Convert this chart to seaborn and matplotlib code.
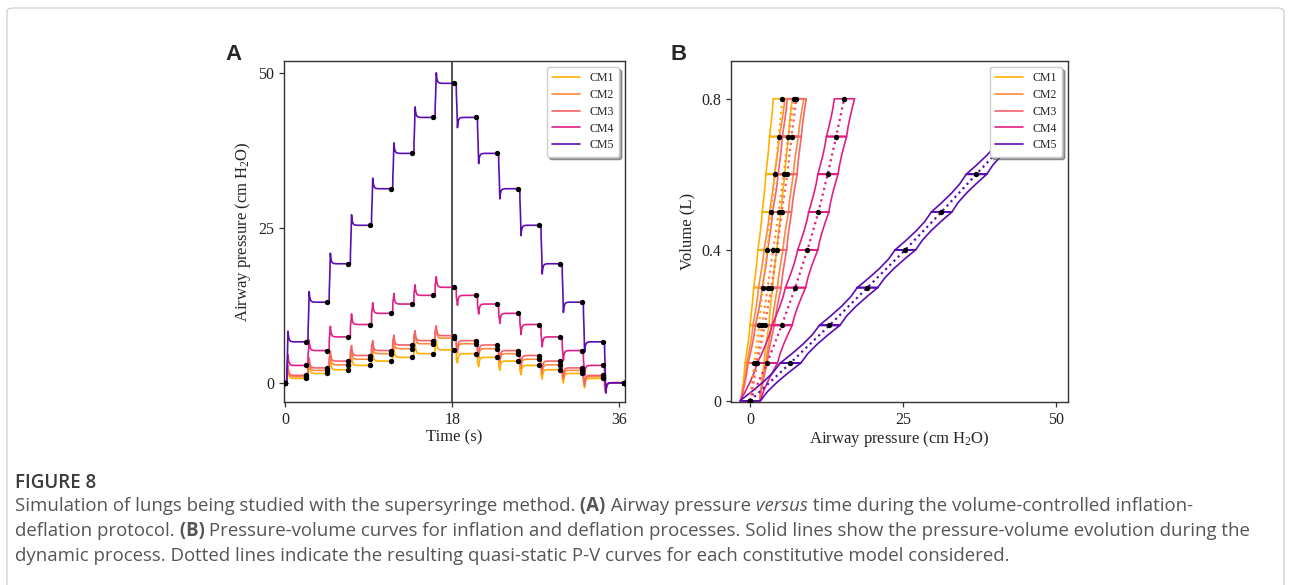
import numpy as np
import pandas as pd
import matplotlib
matplotlib.use("Agg")
import matplotlib.pyplot as plt
import seaborn as sns
from matplotlib.lines import Line2D
from matplotlib.patches import FancyBboxPatch

# ---------------------------------------------------------------- data
MODELS = ["CM1", "CM2", "CM3", "CM4", "CM5"]
COLORS = ["#ffb000", "#fd8a3c", "#f7616a", "#e01f86", "#5a0db0"]

# volume levels of the stepwise supersyringe protocol (L)
VOLUME_LEVELS = [0.0, 0.1, 0.2, 0.3, 0.4, 0.5, 0.6, 0.7, 0.8]

# quasi-static (plateau) airway pressure at each volume level (cm H2O)
PLATEAU_CM1 = [0.0, 0.7, 1.5, 2.1, 2.8, 3.5, 4.1, 4.7, 5.3]
PLATEAU_CM2 = [0.0, 1.0, 2.0, 2.9, 3.8, 4.7, 5.5, 6.3, 7.2]
PLATEAU_CM3 = [0.0, 1.2, 2.4, 3.5, 4.4, 5.2, 6.1, 6.8, 7.6]
PLATEAU_CM4 = [0.0, 2.8, 5.2, 7.4, 9.4, 11.2, 12.7, 14.1, 15.4]
PLATEAU_CM5 = [0.0, 6.6, 13.0, 19.2, 25.4, 31.3, 37.0, 42.8, 48.3]
PLATEAUS = [PLATEAU_CM1, PLATEAU_CM2, PLATEAU_CM3, PLATEAU_CM4, PLATEAU_CM5]

# dynamic excursion above the plateau on inflation / below it on deflation
OVERSHOOT = [1.6, 1.6, 1.6, 1.7, 1.7]
UNDERSHOOT = [1.5, 1.5, 1.5, 1.6, 1.65]

# protocol timing (s)
STEP_PERIOD = 2.28
FLOW_DELAY = 0.2
FLOW_DURATION = 0.12
T_END = 37.5

# pressure path while the syringe moves: share of step volume vs share of plateau change
FLOW_VOL_FRAC = [0.0, 0.25, 0.5, 0.75, 1.0]
FLOW_P_FRAC = [0.0, 0.18, 0.42, 0.7, 1.0]
# stress relaxation once the flow stops: elapsed time (s) vs remaining excursion
RELAX_DT = [0.0, 0.04, 0.08, 0.13, 0.2, 0.3, 0.45, 0.65]
RELAX_LEFT = [1.0, 0.62, 0.40, 0.24, 0.12, 0.05, 0.015, 0.0]

# ---------------------------------------------------------------- traces
n_lev = len(VOLUME_LEVELS) - 1
level_seq = list(range(n_lev + 1)) + list(range(n_lev - 1, -1, -1))

trace_rows, dot_rows = [], []
for model, plateau, over, under in zip(MODELS, PLATEAUS, OVERSHOOT, UNDERSHOOT):
    pts = [(0.0, plateau[0], VOLUME_LEVELS[0])]
    for step, (a, b) in enumerate(zip(level_seq[:-1], level_seq[1:])):
        t0 = step * STEP_PERIOD
        exc = over if b > a else -under
        pa, pb = plateau[a], plateau[b]
        va, vb = VOLUME_LEVELS[a], VOLUME_LEVELS[b]
        ts = t0 + FLOW_DELAY
        pts.append((ts, pa, va))
        for fv, fp in zip(FLOW_VOL_FRAC, FLOW_P_FRAC):
            pts.append((ts + 0.01 + fv * FLOW_DURATION, pa + exc + fp * (pb - pa), va + fv * (vb - va)))
        te = ts + 0.01 + FLOW_DURATION
        for dt, left in zip(RELAX_DT[1:], RELAX_LEFT[1:]):
            pts.append((te + dt, pb + exc * left, vb))
        pts.append((t0 + STEP_PERIOD, pb, vb))
    pts.append((T_END, plateau[0], VOLUME_LEVELS[0]))
    for t, p, v in pts:
        trace_rows.append({"model": model, "time": t, "pressure": p, "volume": v})
    for k, lev in enumerate(level_seq):
        dot_rows.append({"model": model, "time": k * STEP_PERIOD,
                         "pressure": plateau[lev], "volume": VOLUME_LEVELS[lev]})

trace = pd.DataFrame(trace_rows)
dots = pd.DataFrame(dot_rows)
qs = dots.drop_duplicates(subset=["model", "volume"]).sort_values(["model", "volume"])

# ---------------------------------------------------------------- style
W, H = 1290, 585
sns.set_style("ticks")
plt.rcParams["font.family"] = ["Liberation Serif", "DejaVu Serif"]
plt.rcParams["mathtext.default"] = "regular"
plt.rcParams["axes.edgecolor"] = "#333333"
plt.rcParams["axes.linewidth"] = 1.0
plt.rcParams["xtick.color"] = "#333333"
plt.rcParams["ytick.color"] = "#333333"
plt.rcParams["xtick.labelcolor"] = "#222222"
plt.rcParams["ytick.labelcolor"] = "#222222"

fig = plt.figure(figsize=(W / 100, H / 100), dpi=100)
fig.patch.set_facecolor("white")

def px_axes(left, top, right, bottom):
    return fig.add_axes([left / W, 1 - bottom / H, (right - left) / W, (bottom - top) / H])

axA = px_axes(284, 61, 625, 402)
axB = px_axes(731, 61, 1068, 402)

palette = dict(zip(MODELS, COLORS))
LW = 1.2

# ---- panel A: airway pressure vs time
sns.lineplot(data=trace, x="time", y="pressure", hue="model", hue_order=MODELS,
             palette=palette, estimator=None, sort=False, lw=LW, legend=False, ax=axA)
axA.axvline(18, color="#222222", lw=1.1, zorder=1.5)
sns.scatterplot(data=dots, x="time", y="pressure", color="black", s=15,
                linewidth=0, zorder=5, legend=False, ax=axA)
axA.set_xlim(-0.1, 36.6)
axA.set_ylim(-3.1, 51.9)
axA.set_xticks([0, 18, 36])
axA.set_yticks([0, 25, 50])
axA.set_xlabel("Time (s)", fontsize=12, labelpad=1)
axA.set_ylabel("Airway pressure (cm H$_2$O)", fontsize=12, labelpad=4)

# ---- panel B: pressure-volume loops and quasi-static curves
sns.lineplot(data=trace, x="pressure", y="volume", hue="model", hue_order=MODELS,
             palette=palette, estimator=None, sort=False, lw=LW, legend=False, ax=axB)
sns.lineplot(data=qs, x="pressure", y="volume", hue="model", hue_order=MODELS,
             palette=palette, estimator=None, sort=False, lw=1.6, linestyle=":",
             legend=False, ax=axB)
sns.scatterplot(data=qs, x="pressure", y="volume", color="black", s=15,
                linewidth=0, zorder=5, legend=False, ax=axB)
axB.set_xlim(-3.1, 52.0)
axB.set_ylim(-0.003, 0.9)
axB.set_xticks([0, 25, 50])
axB.set_yticks([0, 0.4, 0.8])
axB.set_yticklabels(["0", "0.4", "0.8"])
axB.set_xlabel("Airway pressure (cm H$_2$O)", fontsize=12, labelpad=1)
axB.set_ylabel("Volume (L)", fontsize=12, labelpad=4)

handles = [Line2D([], [], color=c, lw=LW) for c in COLORS]
for ax in (axA, axB):
    ax.tick_params(labelsize=11.5, length=3.5, width=0.9)
    for s in ax.spines.values():
        s.set_visible(True)
    leg = ax.legend(handles, MODELS, loc="upper right", fontsize=8.6, fancybox=True,
                    shadow=True, framealpha=1, edgecolor="#cccccc",
                    handlelength=2.3, labelspacing=0.4, borderpad=0.45,
                    borderaxespad=0.5)
    leg.set_zorder(10)

# panel letters
for letter, x in (("A", 225), ("B", 670)):
    fig.text(x / W, 1 - 55 / H, letter, fontsize=16, fontweight="bold",
             family=["Liberation Sans", "DejaVu Sans"], va="center", ha="left")

# ---------------------------------------------------------------- caption
renderer = fig.canvas.get_renderer()
CAP_FONT = ["Open Sans", "DejaVu Sans"]
CAP_COLOR = "#555555"
CAP_SIZE = 13.45

def draw_runs(x_px, y_px, runs):
    x = x_px
    for text, weight, style in runs:
        t = fig.text(x / W, 1 - y_px / H, text, fontsize=CAP_SIZE, fontweight=weight,
                     fontstyle=style, color=CAP_COLOR, family=CAP_FONT,
                     va="center", ha="left")
        x += t.get_window_extent(renderer).width

fig.text(15 / W, 1 - 483 / H, "FIGURE 8", fontsize=13.5, fontweight="semibold",
         color="#3a3a3a", family=CAP_FONT, va="center", ha="left")
draw_runs(15, 506, [
    ("Simulation of lungs being studied with the supersyringe method.", "normal", "normal"),
    (" (A)", "bold", "normal"),
    (" Airway pressure", "normal", "normal"),
    (" versus", "normal", "italic"),
    (" time during the volume-controlled inflation-", "normal", "normal"),
])
draw_runs(15, 531, [
    ("deflation protocol.", "normal", "normal"),
    (" (B)", "bold", "normal"),
    (" Pressure-volume curves for inflation and deflation processes. Solid lines show the pressure-volume evolution during the",
     "normal", "normal"),
])
draw_runs(15, 556, [
    ("dynamic process. Dotted lines indicate the resulting quasi-static P-V curves for each constitutive model considered.",
     "normal", "normal"),
])

# page frame
frame = FancyBboxPatch((7 / W, -0.05), (1284 - 7) / W, 1.05 - 8 / H + 0.0,
                       boxstyle="round,pad=0,rounding_size=0.006",
                       transform=fig.transFigure, fill=False,
                       edgecolor="#d4d4d4", lw=1.0)
fig.patches.append(frame)

fig.savefig("out.png", dpi=100, facecolor="white")
